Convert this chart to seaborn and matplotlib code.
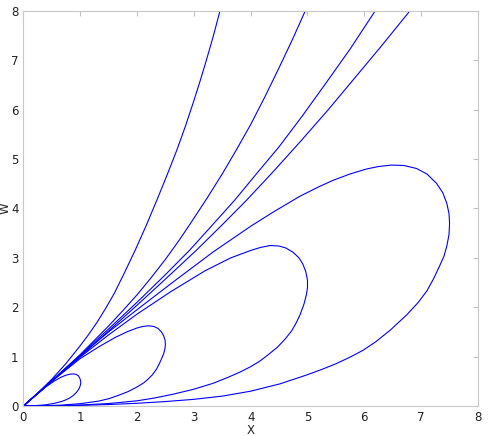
import matplotlib
matplotlib.use("Agg")
import matplotlib.pyplot as plt
import seaborn as sns

# ---- open curves ----
a_x = [0, 0.25, 0.5, 0.75, 1.0, 1.15, 1.3, 1.45, 1.6, 1.78, 1.97, 2.16, 2.35, 2.53,
       2.7, 2.85, 3.0, 3.11, 3.22, 3.34, 3.46]
a_y = [0, 0.26, 0.54, 0.86, 1.22, 1.45, 1.7, 1.98, 2.28, 2.7, 3.16, 3.65, 4.17, 4.68,
       5.18, 5.66, 6.18, 6.58, 7.0, 7.48, 8.0]

b_x = [0, 0.5, 1.0, 1.5, 1.75, 2.0, 2.25, 2.5, 2.75, 3.0, 3.25, 3.5, 3.75, 4.0, 4.25,
       4.5, 4.73, 4.96]
b_y = [0, 0.51, 1.04, 1.62, 1.93, 2.25, 2.6, 2.97, 3.37, 3.8, 4.24, 4.7, 5.19, 5.7, 6.26,
       6.85, 7.41, 8.0]

c_x = [0, 0.5, 1.0, 1.5, 2.0, 2.5, 2.93, 3.33, 3.72, 4.1, 4.5, 4.9, 5.3, 5.75, 6.19]
c_y = [0, 0.51, 1.03, 1.56, 2.1, 2.66, 3.16, 3.67, 4.17, 4.7, 5.25, 5.86, 6.5, 7.23, 8.0]

d_x = [0, 0.5, 1.0, 1.5, 2.0, 2.5, 3.05, 3.5, 3.93, 4.4, 4.87, 5.35, 5.8, 6.3, 6.8]
d_y = [0, 0.5, 1.0, 1.52, 2.04, 2.57, 3.16, 3.67, 4.17, 4.75, 5.35, 5.98, 6.6, 7.29, 8.0]

# ---- closed loops ----
loop1_x = [0, 0.2, 0.4, 0.55, 0.65, 0.74, 0.82, 0.88, 0.93, 0.97, 0.995, 1.01, 1.01,
           0.995, 0.97, 0.93, 0.88, 0.82, 0.75, 0.67, 0.55, 0.4, 0.2, 0]
loop1_y = [0, 0.2, 0.39, 0.51, 0.575, 0.62, 0.645, 0.65, 0.64, 0.61, 0.56, 0.5, 0.45,
           0.39, 0.33, 0.27, 0.215, 0.165, 0.125, 0.09, 0.055, 0.025, 0.006, 0]

loop2_x = [0, 0.5, 1.0, 1.33, 1.62, 1.82, 2.0, 2.1, 2.2, 2.3, 2.37, 2.43, 2.47, 2.495,
           2.5, 2.49, 2.47, 2.43, 2.39, 2.34, 2.27, 2.2, 2.12, 2.0, 1.84, 1.66, 1.51,
           1.33, 1.0, 0.67, 0.33, 0]
loop2_y = [0, 0.5, 0.96, 1.2, 1.39, 1.5, 1.58, 1.61, 1.625, 1.61, 1.57, 1.5, 1.42, 1.33,
           1.24, 1.15, 1.06, 0.95, 0.85, 0.74, 0.63, 0.55, 0.47, 0.385, 0.29, 0.21, 0.15,
           0.1, 0.047, 0.018, 0.004, 0]

loop3_x = [0, 0.5, 1.0, 1.5, 2.0, 2.6, 3.2, 3.65, 4.0, 4.17, 4.34, 4.5, 4.62, 4.75, 4.85,
           4.92, 4.97, 5.0, 5.0, 4.98, 4.94, 4.87, 4.8, 4.72, 4.61, 4.47, 4.3, 4.15, 3.99,
           3.8, 3.6, 3.34, 3.0, 2.64, 2.3, 2.0, 1.5, 1.0, 0.5, 0]
loop3_y = [0, 0.5, 0.99, 1.44, 1.86, 2.32, 2.74, 3.0, 3.15, 3.21, 3.25, 3.24, 3.2, 3.11,
           3.0, 2.87, 2.72, 2.55, 2.4, 2.25, 2.07, 1.85, 1.68, 1.52, 1.36, 1.19, 1.03,
           0.9, 0.79, 0.68, 0.58, 0.46, 0.34, 0.24, 0.16, 0.105, 0.05, 0.02, 0.004, 0]

loop4_x = [0, 0.5, 1.0, 1.5, 2.0, 2.6, 3.34, 4.0, 4.4, 4.87, 5.2, 5.45, 5.75, 6.04, 6.25,
           6.48, 6.7, 6.92, 7.1, 7.27, 7.38, 7.45, 7.49, 7.5, 7.49, 7.45, 7.4, 7.33,
           7.22, 7.1, 6.95, 6.75, 6.45, 6.2, 5.98, 5.75, 5.51, 5.25, 4.99, 4.52, 4.0,
           3.5, 3.0, 2.5, 2.0, 1.5, 1.0, 0.5, 0]
loop4_y = [0, 0.51, 1.02, 1.5, 1.95, 2.48, 3.12, 3.64, 3.93, 4.25, 4.44, 4.57, 4.7, 4.8,
           4.85, 4.88, 4.87, 4.81, 4.7, 4.51, 4.32, 4.11, 3.9, 3.7, 3.47, 3.23, 3.03, 2.85,
           2.58, 2.33, 2.1, 1.85, 1.53, 1.3, 1.13, 0.99, 0.86, 0.74, 0.63, 0.45, 0.3,
           0.2, 0.135, 0.09, 0.055, 0.03, 0.012, 0.003, 0]

curves = [(a_x, a_y), (b_x, b_y), (c_x, c_y), (d_x, d_y),
          (loop1_x, loop1_y), (loop2_x, loop2_y), (loop3_x, loop3_y), (loop4_x, loop4_y)]

ticks = [0, 1, 2, 3, 4, 5, 6, 7, 8]

sns.set_style("white")
plt.rcParams['font.family'] = ['DejaVu Sans']

fig = plt.figure(figsize=(4.91, 4.36), dpi=100)
ax = fig.add_axes([0.0475, 0.0688, 0.926, 0.906])

# draw each contour line in order of its points
for xs, ys in curves:
    sns.lineplot(x=xs, y=ys, sort=False, estimator=None, color="blue",
                 linewidth=0.8, ax=ax)

ax.set_xlim(0, 8)
ax.set_ylim(0, 8)
ax.set_xticks(ticks)
ax.set_yticks(ticks)
ax.tick_params(direction="in", length=3.6, width=0.8, color="#c0c0c0",
               top=True, right=True, labelsize=8.5, labelcolor="#222222", pad=3.5)
for sp in ax.spines.values():
    sp.set_color("#c8c8c8")
    sp.set_linewidth(0.8)

ax.set_xlabel("X", fontsize=8.5, color="#222222", labelpad=0)
ax.set_ylabel("W", fontsize=8.5, color="#222222")
ax.yaxis.set_label_coords(-0.026, 0.5)

fig.savefig("out.png", dpi=100)
